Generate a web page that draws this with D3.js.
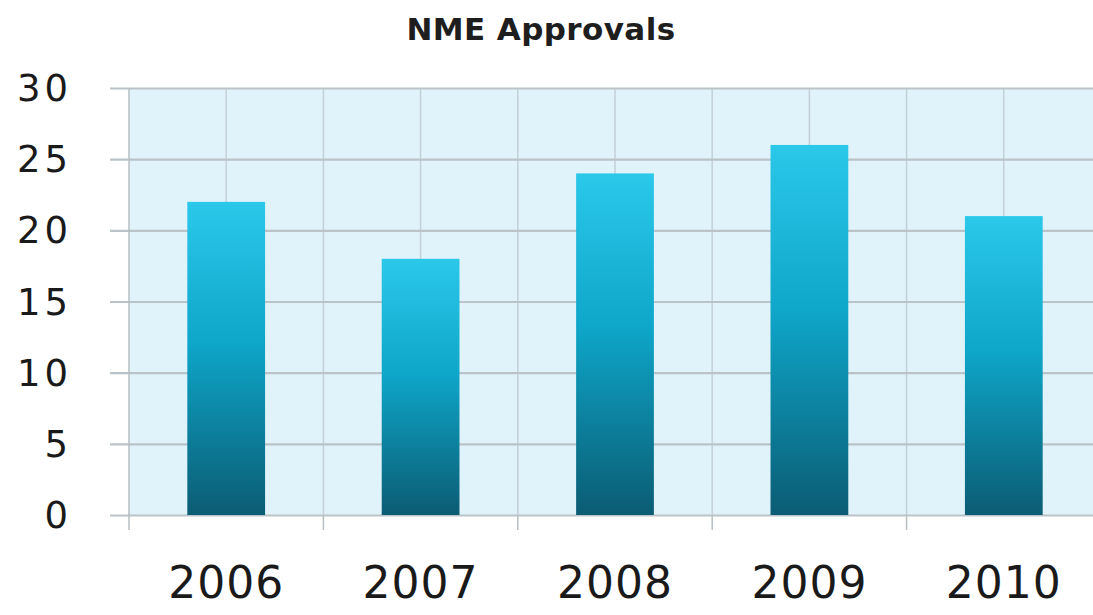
<!DOCTYPE html>
<html><head><meta charset="utf-8">
<script src="https://cdn.jsdelivr.net/npm/d3@7"></script>
<style>html,body{margin:0;padding:0;background:#fff;}svg{display:block;}</style>
</head><body>
<svg id="chart" width="1093" height="615"></svg>
<script>
const title = "NME Approvals";
const categories = ["2006", "2007", "2008", "2009", "2010"];
const values = [22, 18, 24, 26, 21];
const yTicks = [0, 5, 10, 15, 20, 25, 30];

const svg = d3.select("#chart");
const W = 1093, H = 615;
const plot = {left: 129, right: 1101, top: 88, bottom: 515};

const x = d3.scaleBand().domain(categories).range([plot.left, plot.right]).paddingInner(0.6).paddingOuter(0.3);
const y = d3.scaleLinear().domain([0, 30]).range([plot.bottom, plot.top]);

const defs = svg.append("defs");
const grad = defs.append("linearGradient").attr("id", "barGrad").attr("x1", 0).attr("y1", 0).attr("x2", 0).attr("y2", 1);
grad.append("stop").attr("offset", "0%").attr("stop-color", "#2bc8ea");
grad.append("stop").attr("offset", "45%").attr("stop-color", "#0ea6c9");
grad.append("stop").attr("offset", "100%").attr("stop-color", "#0b5c73");

// background
svg.append("rect").attr("x", plot.left).attr("y", plot.top)
  .attr("width", W - plot.left).attr("height", plot.bottom - plot.top)
  .attr("fill", "#e0f3fa");

const step = x.step();
const edges = d3.range(categories.length + 1).map(i => plot.left + i * step);
const centers = categories.map(c => x(c) + x.bandwidth() / 2);

const grid = svg.append("g");
// vertical gridlines
grid.selectAll("line.vc").data(centers.concat(edges.slice(1))).join("line")
  .attr("x1", d => d).attr("x2", d => d).attr("y1", plot.top).attr("y2", plot.bottom)
  .attr("stroke", "#c3d0d6").attr("stroke-width", 1.5);
// horizontal gridlines via axis
const yAxis = d3.axisLeft(y).tickValues(yTicks).tickSize(-(W - 110)).tickFormat("");
grid.append("g").attr("transform", `translate(${110},0)`).call(yAxis)
  .call(g => g.select(".domain").remove())
  .call(g => g.selectAll(".tick line").attr("x1", 0).attr("x2", W - 110)
    .attr("stroke", "#b9c3c8").attr("stroke-width", 2.2));
// left edge line
svg.append("line").attr("x1", plot.left).attr("x2", plot.left).attr("y1", plot.top).attr("y2", plot.bottom + 15)
  .attr("stroke", "#b5bfc4").attr("stroke-width", 1.5);
// bottom tick marks at band edges
svg.append("g").selectAll("line").data(edges.slice(1)).join("line")
  .attr("x1", d => d).attr("x2", d => d).attr("y1", plot.bottom).attr("y2", plot.bottom + 15)
  .attr("stroke", "#b5bfc4").attr("stroke-width", 1.5);

// bars
svg.append("g").selectAll("rect").data(values).join("rect")
  .attr("x", (d, i) => x(categories[i]))
  .attr("y", d => y(d))
  .attr("width", x.bandwidth())
  .attr("height", d => y(0) - y(d))
  .attr("fill", "url(#barGrad)");

// y labels
svg.append("g").selectAll("text").data(yTicks).join("text")
  .attr("x", 72).attr("y", d => y(d) + 13)
  .attr("text-anchor", "end")
  .attr("font-family", "DejaVu Sans, sans-serif")
  .attr("font-size", 37).attr("letter-spacing", 4)
  .attr("fill", "#1a1a1a")
  .text(d => d);

// x labels
svg.append("g").selectAll("text").data(categories).join("text")
  .attr("x", d => x(d) + x.bandwidth() / 2).attr("y", 598)
  .attr("text-anchor", "middle")
  .attr("font-family", "DejaVu Sans, sans-serif")
  .attr("font-size", 44).attr("letter-spacing", 1)
  .attr("fill", "#1a1a1a")
  .text(d => d);

// title
svg.append("text").attr("x", 541).attr("y", 40).attr("text-anchor", "middle")
  .attr("font-family", "DejaVu Sans, sans-serif").attr("font-weight", "bold")
  .attr("font-size", 31).attr("letter-spacing", 0.4).attr("fill", "#1e1e1e").text(title);
</script>
</body></html>
